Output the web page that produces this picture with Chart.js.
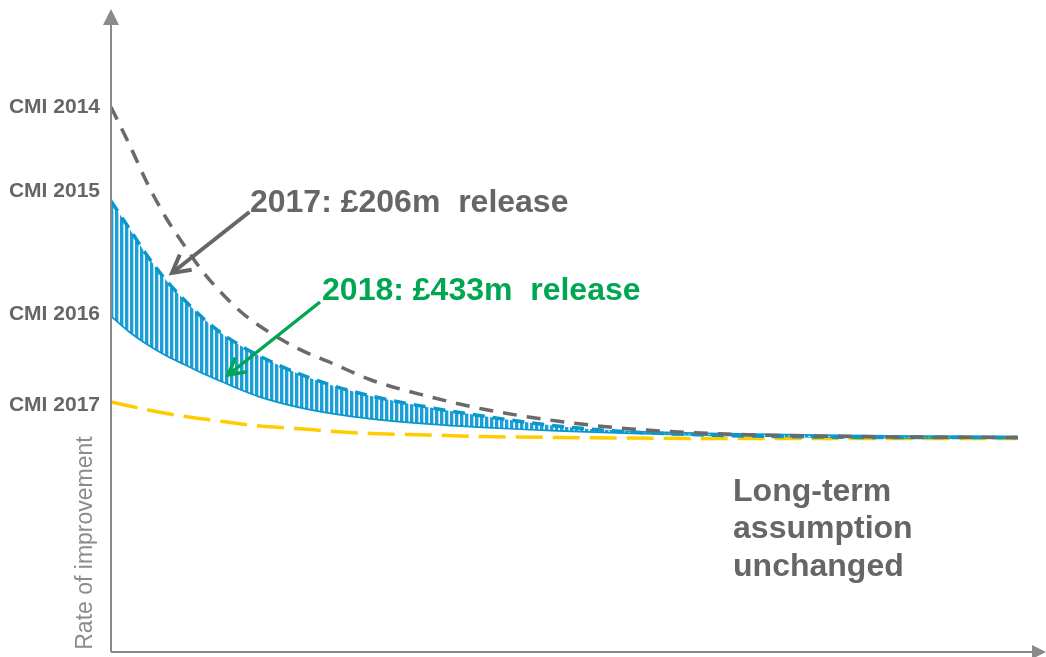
<!DOCTYPE html>
<html>
<head>
<meta charset="utf-8">
<title>Rate of improvement</title>
<script src="https://cdn.jsdelivr.net/npm/chart.js@4.4.1/dist/chart.umd.min.js"></script>
<style>
  html, body { margin: 0; padding: 0; background: #fff; }
  #wrap { width: 1046px; height: 657px; }
</style>
</head>
<body>
<div id="wrap"><canvas id="chart" width="1046" height="657"></canvas></div>
<script>
// projection years and improvement rates for each CMI model
const X_YEARS = [0, 1, 2, 3, 4, 5, 6, 7, 8, 10, 12, 14, 17, 20, 24, 28, 33, 38, 43, 48.8]
const CMI_2014 = [5.45, 5.07, 4.67, 4.33, 4.05, 3.79, 3.58, 3.4, 3.26, 3.04, 2.88, 2.72, 2.56, 2.43, 2.31, 2.23, 2.18, 2.16, 2.15, 2.145]
const CMI_2015 = [4.51, 4.23, 3.95, 3.71, 3.51, 3.33, 3.18, 3.06, 2.96, 2.79, 2.66, 2.56, 2.45, 2.36, 2.26, 2.2, 2.165, 2.15, 2.145, 2.145]
const CMI_2016 = [3.37, 3.21, 3.08, 2.97, 2.88, 2.79, 2.71, 2.63, 2.56, 2.46, 2.39, 2.34, 2.29, 2.255, 2.22, 2.195, 2.175, 2.16, 2.15, 2.145]
const CMI_2017 = [2.5, 2.46, 2.42, 2.385, 2.355, 2.33, 2.305, 2.28, 2.26, 2.235, 2.205, 2.185, 2.17, 2.155, 2.145, 2.14, 2.135, 2.135, 2.135, 2.135]

// labels on the rate axis
const TICK_VALUES = [5.45, 4.61, 3.38, 2.47]
const TICK_LABELS = ['CMI 2014', 'CMI 2015', 'CMI 2016', 'CMI 2017']

const AXIS_TITLE = 'Rate of improvement'
const RELEASE_2017 = '2017: £206m  release'
const RELEASE_2018 = '2018: £433m  release'
const LONG_TERM = ['Long-term', 'assumption', 'unchanged']

const FONT = '"Liberation Sans", Arial, Helvetica, sans-serif'
const GREY = '#666666'
const BLUE = '#0a98cc'
const YELLOW = '#ffcc00'
const GREEN = '#00a651'
const AXIS = '#8a8a8a'

const toPoints = (values) => values.map((v, i) => ({ x: X_YEARS[i], y: v }))

// vertical stripes between the 2015 and 2016 curves
const stripes = (() => {
  const c = document.createElement('canvas')
  c.width = 5
  c.height = 4
  const g = c.getContext('2d')
  g.fillStyle = '#ffffff'
  g.fillRect(0, 0, 5, 4)
  g.fillStyle = '#1a9fd6'
  g.fillRect(0, 0, 3, 4)
  g.fillStyle = '#a9dcf0'
  g.fillRect(3, 0, 1, 4)
  return g.createPattern(c, 'repeat')
})()

const drawArrow = (ctx, x1, y1, x2, y2, color, width, head) => {
  const ang = Math.atan2(y2 - y1, x2 - x1)
  ctx.save()
  ctx.strokeStyle = color
  ctx.lineWidth = width
  ctx.lineCap = 'butt'
  ctx.lineJoin = 'miter'
  ctx.beginPath()
  ctx.moveTo(x1, y1)
  ctx.lineTo(x2, y2)
  ctx.stroke()
  ctx.beginPath()
  ctx.moveTo(x2 - head * Math.cos(ang - 0.5), y2 - head * Math.sin(ang - 0.5))
  ctx.lineTo(x2, y2)
  ctx.lineTo(x2 - head * Math.cos(ang + 0.5), y2 - head * Math.sin(ang + 0.5))
  ctx.stroke()
  ctx.restore()
}

const overlay = {
  id: 'overlay',
  afterDraw(chart) {
    const { ctx, chartArea, scales } = chart
    const px = (v) => scales.x.getPixelForValue(v)
    const py = (v) => scales.y.getPixelForValue(v)
    const left = chartArea.left
    const bottom = chartArea.bottom

    ctx.save()
    // axes with arrow heads
    ctx.strokeStyle = AXIS
    ctx.fillStyle = AXIS
    ctx.lineWidth = 2
    ctx.beginPath()
    ctx.moveTo(left, bottom)
    ctx.lineTo(left, chartArea.top + 14)
    ctx.moveTo(left, bottom)
    ctx.lineTo(chartArea.right - 8, bottom)
    ctx.stroke()
    ctx.beginPath()
    ctx.moveTo(left, chartArea.top - 1)
    ctx.lineTo(left - 8, chartArea.top + 15)
    ctx.lineTo(left + 8, chartArea.top + 15)
    ctx.closePath()
    ctx.fill()
    ctx.beginPath()
    ctx.moveTo(chartArea.right + 6, bottom)
    ctx.lineTo(chartArea.right - 8, bottom - 7)
    ctx.lineTo(chartArea.right - 8, bottom + 7)
    ctx.closePath()
    ctx.fill()

    // axis title
    ctx.save()
    ctx.translate(86, 543)
    ctx.rotate(-Math.PI / 2)
    ctx.font = '23px ' + FONT
    ctx.fillStyle = '#8c8c8c'
    ctx.textAlign = 'center'
    ctx.textBaseline = 'middle'
    ctx.fillText(AXIS_TITLE, 0, 0)
    ctx.restore()

    // release call-outs
    ctx.font = 'bold 32px ' + FONT
    ctx.textAlign = 'left'
    ctx.textBaseline = 'middle'
    ctx.fillStyle = GREY
    ctx.fillText(RELEASE_2017, px(7.48), py(4.49))
    ctx.fillStyle = GREEN
    ctx.fillText(RELEASE_2018, px(11.36), py(3.61))

    drawArrow(ctx, px(7.45), py(4.4), px(3.28), py(3.79), GREY, 4, 20)
    drawArrow(ctx, px(11.25), py(3.5), px(6.3), py(2.77), GREEN, 3.5, 19)

    ctx.fillStyle = GREY
    LONG_TERM.forEach((line, i) => {
      ctx.fillText(line, px(33.48), py(1.6 - i * 0.375))
    })
    ctx.restore()
  }
}

new Chart(document.getElementById('chart'), {
  type: 'line',
  plugins: [overlay],
  data: {
    datasets: [
      {
        label: 'CMI 2014',
        data: toPoints(CMI_2014),
        borderColor: '#6a6a6a',
        borderWidth: 3.5,
        borderDash: [14, 10],
        fill: false,
        order: 0
      },
      {
        label: 'CMI 2015',
        data: toPoints(CMI_2015),
        borderColor: BLUE,
        borderWidth: 3.5,
        borderDash: [12, 8],
        backgroundColor: stripes,
        fill: '+1',
        order: 1
      },
      {
        label: 'CMI 2016',
        data: toPoints(CMI_2016),
        borderColor: BLUE,
        borderWidth: 3.5,
        fill: false,
        order: 2
      },
      {
        label: 'CMI 2017',
        data: toPoints(CMI_2017),
        borderColor: YELLOW,
        borderWidth: 3.5,
        borderDash: [27, 10],
        fill: false,
        order: 3
      }
    ]
  },
  options: {
    responsive: false,
    animation: false,
    events: [],
    layout: {
      padding: { top: 10, right: 6, bottom: 5, left: 0 }
    },
    elements: {
      point: { radius: 0 },
      line: { cubicInterpolationMode: 'monotone' }
    },
    plugins: {
      legend: { display: false },
      tooltip: { enabled: false },
      filler: { propagate: false }
    },
    scales: {
      x: {
        type: 'linear',
        min: 0,
        max: 50,
        display: false
      },
      y: {
        type: 'linear',
        min: 0,
        max: 6.42,
        position: 'left',
        border: { display: false },
        grid: { display: false, drawTicks: false },
        afterBuildTicks(scale) {
          scale.ticks = TICK_VALUES.map((v) => ({ value: v }))
        },
        afterFit(scale) {
          scale.width = 111
          scale.paddingTop = 0
          scale.paddingBottom = 0
        },
        ticks: {
          padding: 11,
          color: GREY,
          font: { family: FONT, size: 21, weight: 'bold' },
          callback: (value, index) => TICK_LABELS[index]
        }
      }
    }
  }
})
</script>
</body>
</html>
